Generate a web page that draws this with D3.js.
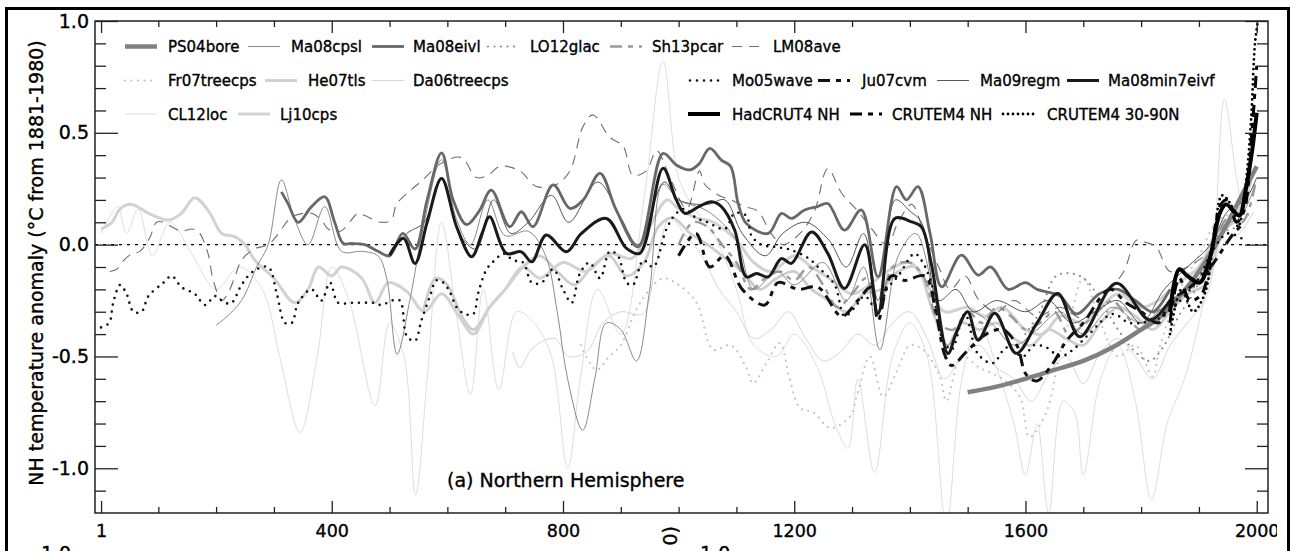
<!DOCTYPE html>
<html>
<head>
<meta charset="utf-8">
<script src="https://cdn.jsdelivr.net/npm/d3@7"></script>
<style>
  body { margin: 0; background: #fff; }
  text { font-family: "DejaVu Sans", sans-serif; fill: #000; stroke: #000; stroke-width: 0.35px; }
</style>
</head>
<body>
<script>
// ---- data: [year, anomaly] ----
var ps04bore = [[1500,-0.66],[1550,-0.635],[1600,-0.6],[1650,-0.56],[1700,-0.52],[1750,-0.46],[1800,-0.38],[1830,-0.33],[1860,-0.25],[1900,-0.12],[1940,0.05],[1970,0.2],[2000,0.35]];
var ma08cpsl = [[200,-0.36],[215,-0.33],[244,-0.25],[270,-0.1],[290,0.0],[313,0.29],[335,0.12],[359,0.0],[388,0.17],[417,-0.03],[452,-0.03],[480,-0.05],[495,-0.15],[513,-0.49],[535,-0.25],[560,0.1],[590,0.38],[615,0.12],[640,0.0],[670,0.2],[700,0.04],[740,0.06],[770,-0.05],[790,-0.3],[808,-0.6],[834,-0.83],[855,-0.6],[875,-0.35],[900,-0.38],[927,-0.52],[950,-0.2],[973,0.27],[1000,0.2],[1050,0.15],[1100,0.02],[1130,-0.2],[1170,-0.12],[1200,-0.18],[1250,-0.08],[1290,-0.25],[1320,-0.1],[1348,-0.47],[1380,-0.05],[1410,0.05],[1440,-0.2],[1465,-0.45],[1500,-0.3],[1540,-0.35],[1580,-0.45],[1620,-0.38],[1660,-0.3],[1700,-0.4],[1750,-0.28],[1800,-0.35],[1850,-0.25],[1900,-0.15],[1940,0.08],[1970,0.12],[1995,0.25]];
var ma08eivl = [[313,0.236],[325,0.18],[342,0.10],[365,0.17],[388,0.214],[405,0.1],[420,0.005],[434,0.005],[457,0.0],[480,-0.03],[500,-0.05],[523,0.05],[544,-0.02],[565,0.2],[590,0.41],[610,0.2],[633,0.09],[655,0.15],[676,0.244],[708,0.08],[728,0.147],[748,0.08],[783,0.267],[812,0.162],[835,0.2],[864,0.319],[892,0.155],[930,-0.01],[973,0.408],[996,0.356],[1019,0.334],[1035,0.36],[1054,0.43],[1074,0.378],[1090,0.35],[1103,0.184],[1117,0.095],[1155,0.05],[1178,0.14],[1195,0.117],[1218,0.155],[1240,0.17],[1258,0.184],[1287,0.065],[1316,0.155],[1345,-0.144],[1377,0.259],[1394,0.2],[1414,0.259],[1435,0.05],[1455,-0.189],[1489,-0.047],[1518,-0.136],[1540,-0.1],[1570,-0.2],[1600,-0.17],[1620,-0.2],[1660,-0.23],[1688,-0.31],[1728,-0.22],[1760,-0.2],[1790,-0.25],[1820,-0.3],[1850,-0.2]];
var lo12glac = [[1600,-0.4],[1625,-0.3],[1653,-0.14],[1682,-0.13],[1705,-0.16],[1730,-0.25],[1760,-0.38],[1790,-0.48],[1815,-0.52],[1840,-0.45],[1865,-0.32],[1890,-0.22],[1915,-0.08],[1940,0.05],[1965,0.08],[1990,0.15]];
var sh13pcar = [[1000,0.0],[1025,0.1],[1050,0.08],[1075,0.0],[1100,-0.08],[1125,-0.2],[1150,-0.15],[1175,-0.12],[1200,-0.16],[1225,-0.1],[1250,-0.18],[1275,-0.28],[1300,-0.22],[1325,-0.15],[1345,-0.3],[1370,-0.1],[1400,-0.08],[1425,-0.15],[1450,-0.35],[1475,-0.38],[1500,-0.3],[1525,-0.35],[1550,-0.28],[1575,-0.32],[1600,-0.38],[1625,-0.35],[1650,-0.3],[1675,-0.4],[1700,-0.36],[1725,-0.3],[1750,-0.25],[1775,-0.32],[1800,-0.38],[1825,-0.3],[1850,-0.28],[1875,-0.2],[1900,-0.18],[1925,-0.02],[1950,0.12],[1975,0.1],[1998,0.28]];
var lm08ave = [[16,-0.12],[28,-0.11],[40,-0.07],[55,-0.04],[68,-0.03],[85,0.03],[97,0.10],[110,0.10],[123,0.08],[140,0.06],[158,0.07],[169,0.06],[186,-0.04],[195,-0.16],[210,-0.25],[220,-0.22],[233,-0.14],[244,-0.07],[265,-0.02],[290,0.0],[305,0.04],[325,0.11],[336,0.13],[365,0.14],[382,0.11],[394,0.07],[415,0.06],[446,0.14],[457,0.13],[486,0.10],[503,0.11],[512,0.18],[535,0.24],[558,0.29],[587,0.36],[624,0.39],[650,0.30],[670,0.31],[691,0.35],[725,0.33],[754,0.26],[789,0.27],[812,0.33],[835,0.53],[852,0.58],[881,0.48],[904,0.44],[921,0.31],[944,0.33],[962,0.42],[985,0.3],[1014,0.16],[1036,0.33],[1045,0.27],[1070,0.22],[1091,0.20],[1115,0.17],[1137,0.15],[1160,0.05],[1180,0.0],[1210,0.05],[1235,0.15],[1258,0.34],[1282,0.23],[1310,0.15],[1334,0.07],[1360,0.0],[1380,0.1],[1403,0.18],[1425,0.05],[1450,-0.1],[1470,-0.2],[1495,-0.14],[1520,-0.25],[1550,-0.3],[1580,-0.25],[1620,-0.32],[1660,-0.28],[1700,-0.33],[1740,-0.22],[1770,-0.12],[1792,0.02],[1808,0.01],[1826,-0.01],[1850,-0.12],[1880,-0.1],[1910,-0.05],[1935,0.0]];
var fr07treecps = [[831,-0.45],[858,-0.56],[880,-0.5],[900,-0.45],[927,-0.29],[950,-0.2],[973,-0.15],[1000,-0.18],[1031,-0.26],[1060,-0.47],[1090,-0.45],[1117,-0.55],[1129,-0.62],[1152,-0.53],[1175,-0.44],[1192,-0.6],[1210,-0.73],[1233,-0.75],[1262,-0.82],[1296,-0.77],[1308,-0.68],[1331,-0.5],[1354,-0.68],[1380,-0.55],[1400,-0.45],[1423,-0.47],[1452,-0.59],[1463,-0.7],[1490,-0.5],[1520,-0.55],[1560,-0.6],[1590,-0.68],[1607,-0.86],[1636,-0.75],[1659,-0.49],[1680,-0.3],[1700,-0.15],[1730,-0.35],[1760,-0.5],[1790,-0.45],[1820,-0.59],[1832,-0.46],[1867,-0.2],[1900,-0.05],[1930,0.1],[1960,0.15],[1990,0.25]];
var he07tls = [[558,-0.3],[580,-0.15],[600,-0.18],[625,-0.32],[645,-0.38],[673,-0.28],[700,-0.2],[731,-0.1],[760,-0.05],[790,-0.12],[820,-0.18],[850,-0.1],[880,-0.05],[910,-0.14],[940,-0.08],[965,0.08],[990,0.12],[1020,0.05],[1050,0.0],[1080,-0.06],[1110,-0.12],[1140,-0.2],[1170,-0.15],[1200,-0.12],[1230,-0.2],[1260,-0.25],[1290,-0.3],[1320,-0.22],[1350,-0.2],[1380,-0.12],[1410,-0.1],[1440,-0.3],[1465,-0.45],[1490,-0.35],[1520,-0.38],[1550,-0.35],[1580,-0.42],[1610,-0.45],[1640,-0.38],[1670,-0.42],[1700,-0.45],[1730,-0.35],[1760,-0.28],[1790,-0.32],[1820,-0.38],[1850,-0.3],[1880,-0.22],[1910,-0.18],[1940,0.05],[1960,0.1]];
var da06treecps = [[713,-0.48],[725,-0.55],[748,-0.46],[786,-0.42],[809,-0.5],[841,-0.48],[869,-0.35],[900,-0.3],[938,-0.31],[960,-0.1],[985,0.12],[1010,0.05],[1040,-0.05],[1070,-0.2],[1100,-0.3],[1130,-0.42],[1160,-0.38],[1190,-0.3],[1220,-0.42],[1250,-0.52],[1280,-0.48],[1310,-0.4],[1340,-0.45],[1370,-0.35],[1400,-0.3],[1430,-0.42],[1460,-0.6],[1490,-0.5],[1520,-0.45],[1550,-0.55],[1580,-0.6],[1610,-0.7],[1640,-0.58],[1670,-0.5],[1700,-0.62],[1730,-0.48],[1760,-0.42],[1790,-0.5],[1820,-0.6],[1850,-0.45],[1880,-0.35],[1910,-0.25],[1940,0.0],[1970,0.05],[1995,0.15]];
var cl12loc = [[1,0.05],[15,0.12],[30,0.17],[45,0.05],[65,0.16],[90,-0.05],[120,0.1],[160,-0.05],[200,-0.2],[240,-0.1],[280,-0.2],[310,-0.5],[345,-0.84],[375,-0.5],[400,-0.1],[430,-0.25],[475,-0.72],[500,-0.35],[525,-0.5],[545,-1.12],[565,-0.6],[590,0.1],[615,-0.3],[640,-0.67],[662,-0.2],[689,-0.65],[720,-0.3],[750,-0.35],[780,-0.5],[808,-1.0],[830,-0.6],[860,-0.2],[900,-0.4],[940,0.2],[973,0.82],[1000,0.3],[1030,0.15],[1060,0.05],[1100,-0.2],[1130,-0.45],[1170,-0.5],[1200,-0.4],[1240,-0.55],[1270,-0.8],[1293,-0.91],[1310,-0.6],[1339,-1.02],[1370,-0.5],[1400,-0.35],[1430,-0.5],[1463,-1.25],[1490,-0.6],[1520,-0.35],[1550,-0.55],[1580,-0.8],[1600,-1.03],[1620,-0.8],[1640,-1.2],[1665,-0.7],[1685,-0.75],[1700,-1.03],[1730,-0.6],[1760,-0.45],[1790,-0.7],[1818,-1.14],[1845,-0.8],[1875,-0.6],[1900,-0.35],[1925,0.0],[1944,0.65],[1965,0.3],[1976,0.17],[1990,0.25]];
var lj10cps = [[1,0.07],[20,0.1],[34,0.16],[54,0.18],[83,0.14],[117,0.11],[140,0.14],[163,0.21],[187,0.15],[210,0.05],[233,0.035],[250,0.0],[267,-0.07],[300,-0.15],[336,-0.26],[359,-0.2],[377,-0.1],[400,-0.14],[417,-0.1],[452,-0.15],[475,-0.26],[498,-0.17],[530,-0.21],[560,-0.3],[590,-0.22],[620,-0.32],[645,-0.4],[673,-0.28],[700,-0.2],[731,-0.1],[760,-0.15],[800,-0.08],[840,-0.12],[880,-0.04],[920,-0.06],[950,0.08],[980,0.2],[1000,0.16],[1030,0.12],[1060,0.1],[1100,0.02],[1130,-0.08],[1160,-0.12],[1200,-0.05],[1230,-0.1],[1260,-0.15],[1300,-0.22],[1330,-0.18],[1360,-0.12],[1400,-0.08],[1430,-0.18],[1460,-0.3],[1500,-0.28],[1530,-0.32],[1560,-0.28],[1600,-0.38],[1630,-0.4],[1660,-0.32],[1700,-0.35],[1730,-0.28],[1760,-0.22],[1800,-0.28],[1830,-0.25],[1860,-0.18],[1900,-0.1],[1930,0.05],[1960,0.12],[1990,0.28]];
var mo05wave = [[1,-0.37],[15,-0.35],[22,-0.26],[34,-0.18],[45,-0.22],[57,-0.30],[71,-0.30],[83,-0.23],[109,-0.17],[123,-0.14],[140,-0.19],[163,-0.22],[181,-0.27],[198,-0.23],[215,-0.26],[227,-0.26],[244,-0.18],[264,-0.12],[290,-0.10],[305,-0.22],[319,-0.35],[331,-0.35],[342,-0.26],[365,-0.20],[382,-0.25],[397,-0.17],[411,-0.26],[434,-0.26],[452,-0.26],[472,-0.26],[486,-0.27],[504,-0.25],[518,-0.25],[530,-0.41],[544,-0.43],[555,-0.34],[570,-0.23],[581,-0.16],[593,-0.17],[604,-0.21],[616,-0.28],[630,-0.31],[645,-0.31],[653,-0.22],[668,-0.11],[682,-0.07],[697,-0.04],[714,-0.07],[731,-0.08],[746,-0.17],[763,-0.17],[783,-0.11],[800,-0.20],[815,-0.26],[829,-0.13],[846,-0.08],[864,-0.15],[881,-0.03],[895,-0.05],[910,-0.17],[921,-0.18],[939,-0.07],[956,-0.10],[979,0.07],[996,0.14],[1011,0.16],[1030,0.12],[1050,0.1],[1080,0.07],[1097,0.14],[1117,0.13],[1126,0.04],[1143,0.0],[1166,-0.01],[1190,-0.02],[1224,-0.06],[1241,-0.10],[1270,-0.18],[1287,-0.32],[1305,-0.28],[1322,-0.23],[1345,-0.3],[1360,-0.2],[1380,-0.14],[1408,-0.04],[1420,-0.07],[1437,-0.17],[1455,-0.41],[1472,-0.47],[1495,-0.31],[1518,-0.49],[1544,-0.53],[1567,-0.46],[1596,-0.50],[1615,-0.45],[1636,-0.46],[1660,-0.5],[1682,-0.47],[1710,-0.4],[1751,-0.31],[1780,-0.35],[1820,-0.34],[1844,-0.31],[1878,-0.22],[1900,-0.15],[1925,-0.02],[1950,0.05],[1979,0.02]];
var ju07cvm = [[1000,-0.05],[1030,0.05],[1054,-0.1],[1080,-0.05],[1110,-0.2],[1149,-0.27],[1172,-0.17],[1207,-0.2],[1241,-0.19],[1282,-0.32],[1310,-0.25],[1333,-0.19],[1345,-0.34],[1368,-0.14],[1391,-0.16],[1426,-0.14],[1445,-0.3],[1460,-0.49],[1472,-0.54],[1501,-0.47],[1532,-0.4],[1561,-0.38],[1585,-0.45],[1601,-0.58],[1619,-0.61],[1645,-0.54],[1671,-0.43],[1700,-0.35],[1746,-0.2],[1774,-0.26],[1800,-0.3],[1830,-0.35],[1850,-0.25],[1880,-0.2],[1920,-0.1],[1960,0.05],[1980,0.1]];
var ma09regm = [[500,-0.05],[530,0.05],[560,0.1],[590,0.3],[620,0.05],[650,-0.02],[680,0.2],[710,0.05],[740,0.1],[780,0.22],[810,0.1],[860,0.28],[900,0.12],[930,0.0],[975,0.28],[1000,0.2],[1050,0.18],[1080,0.2],[1110,0.05],[1150,-0.05],[1180,0.05],[1220,0.1],[1260,0.02],[1290,-0.1],[1320,0.05],[1345,-0.25],[1375,0.2],[1400,0.15],[1420,0.1],[1450,-0.25],[1480,-0.2],[1510,-0.3],[1550,-0.25],[1600,-0.3],[1640,-0.25],[1680,-0.35],[1720,-0.3],[1760,-0.25],[1800,-0.35],[1840,-0.2],[1880,-0.1],[1920,0.0],[1950,0.15],[1980,0.2],[2000,0.3]];
var ma08min7eivf = [[500,-0.047],[524,0.028],[544,-0.084],[565,0.1],[590,0.296],[616,0.08],[642,-0.054],[660,0.05],[673,0.125],[702,-0.039],[728,-0.032],[746,-0.077],[771,0.043],[806,-0.032],[832,0.05],[875,0.117],[910,-0.017],[933,-0.039],[973,0.341],[996,0.2],[1011,0.14],[1035,0.17],[1057,0.192],[1074,0.17],[1097,0.065],[1117,-0.144],[1135,-0.129],[1155,-0.144],[1178,-0.062],[1195,-0.084],[1230,0.057],[1258,-0.039],[1287,-0.196],[1322,0.0],[1345,-0.308],[1374,0.117],[1403,0.102],[1420,0.08],[1437,-0.084],[1466,-0.487],[1480,-0.397],[1500,-0.3],[1518,-0.427],[1547,-0.307],[1584,-0.486],[1620,-0.35],[1656,-0.218],[1694,-0.412],[1757,-0.173],[1815,-0.337],[1850,-0.25]];
var hadcrut4nh = [[1850,-0.3],[1866,-0.11],[1880,-0.14],[1901,-0.17],[1918,-0.07],[1936,0.14],[1947,0.18],[1960,0.15],[1970,0.13],[1982,0.26],[1992,0.42],[2000,0.59]];
var crutem4nh = [[1850,-0.35],[1866,-0.15],[1885,-0.25],[1905,-0.22],[1920,-0.05],[1938,0.18],[1950,0.2],[1965,0.1],[1978,0.15],[1990,0.45],[2000,0.8]];
var crutem4n3090 = [[1850,-0.4],[1870,-0.2],[1890,-0.3],[1910,-0.22],[1925,0.0],[1940,0.22],[1955,0.18],[1968,0.08],[1980,0.25],[1990,0.55],[1997,0.9],[2002,1.0]];

var xMajor = [1, 400, 800, 1200, 1600, 2000];
var xMinor = [100, 200, 300, 500, 600, 700, 900, 1000, 1100, 1300, 1400, 1500, 1700, 1800, 1900];
var yMajor = [-1.0, -0.5, 0.0, 0.5, 1.0];
var yMinor = [-1.1, -0.9, -0.8, -0.7, -0.6, -0.4, -0.3, -0.2, -0.1, 0.1, 0.2, 0.3, 0.4, 0.6, 0.7, 0.8, 0.9];

var legendRows = [
  ["PS04bore", "Ma08cpsl", "Ma08eivl", "LO12glac", "Sh13pcar", "LM08ave"],
  ["Fr07treecps", "He07tls", "Da06treecps", "Mo05wave", "Ju07cvm", "Ma09regm", "Ma08min7eivf"],
  ["CL12loc", "Lj10cps", "HadCRUT4 NH", "CRUTEM4 NH", "CRUTEM4 30-90N"]
];

// ---- styles (kept apart from the data) ----
var DOT = "0,6.5", DASH = "12,6,5,6";
var styles = {
  "PS04bore":       {c: "#808080", w: 4.5},
  "Ma08cpsl":       {c: "#8a8a8a", w: 1},
  "Ma08eivl":       {c: "#686868", w: 2.8},
  "LO12glac":       {c: "#8a8a8a", w: 2.2, d: DOT},
  "Sh13pcar":       {c: "#9a9a9a", w: 2.4, d: DASH},
  "LM08ave":        {c: "#6e6e6e", w: 1.1, d: "10,7"},
  "Fr07treecps":    {c: "#c2c2c2", w: 2.2, d: DOT},
  "He07tls":        {c: "#cdcdcd", w: 2.8},
  "Da06treecps":    {c: "#d6d6d6", w: 1},
  "CL12loc":        {c: "#dedede", w: 1},
  "Lj10cps":        {c: "#d2d2d2", w: 3},
  "Mo05wave":       {c: "#111",    w: 2.6, d: "0,7"},
  "Ju07cvm":        {c: "#111",    w: 3, d: DASH},
  "Ma09regm":       {c: "#555",    w: 1},
  "Ma08min7eivf":   {c: "#1a1a1a", w: 3},
  "HadCRUT4 NH":    {c: "#000",    w: 4},
  "CRUTEM4 NH":     {c: "#000",    w: 3, d: DASH},
  "CRUTEM4 30-90N": {c: "#000",    w: 2.8, d: "0,5"}
};

var series = [
  ["CL12loc", cl12loc], ["Da06treecps", da06treecps], ["Fr07treecps", fr07treecps],
  ["He07tls", he07tls], ["Lj10cps", lj10cps], ["LO12glac", lo12glac],
  ["Sh13pcar", sh13pcar], ["LM08ave", lm08ave], ["Ma08cpsl", ma08cpsl],
  ["Ma09regm", ma09regm], ["PS04bore", ps04bore], ["Ma08eivl", ma08eivl],
  ["Mo05wave", mo05wave], ["Ju07cvm", ju07cvm], ["Ma08min7eivf", ma08min7eivf],
  ["CRUTEM4 30-90N", crutem4n3090], ["CRUTEM4 NH", crutem4nh], ["HadCRUT4 NH", hadcrut4nh]
];

var W = 1290, H = 551;
var L = 95, R = 1268, T = 21, B = 513;

var svg = d3.select("body").append("svg").attr("width", W).attr("height", H);

var x = d3.scaleLinear().domain([-9.5, 2019.5]).range([L, R]);
var y = d3.scaleLinear().domain([-1.2, 1.0]).range([B, T]);

svg.append("clipPath").attr("id", "plot")
   .append("rect").attr("x", L).attr("y", T).attr("width", R - L).attr("height", B - T);

// zero line
svg.append("line")
   .attr("x1", L).attr("x2", R).attr("y1", y(0)).attr("y2", y(0))
   .attr("stroke", "#000").attr("stroke-width", 1.2).attr("stroke-dasharray", "3,5");

var line = d3.line()
   .x(function(d){ return x(d[0]); })
   .y(function(d){ return y(d[1]); })
   .curve(d3.curveCatmullRom.alpha(0.5));

function styleIt(sel, name) {
  var s = styles[name];
  sel.attr("fill", "none").attr("stroke", s.c).attr("stroke-width", s.w)
     .attr("stroke-linecap", s.d && s.d.indexOf("0,") === 0 ? "round" : "butt")
     .attr("stroke-linejoin", "round");
  if (s.d) sel.attr("stroke-dasharray", s.d);
  return sel;
}

var g = svg.append("g").attr("clip-path", "url(#plot)");
series.forEach(function(s){
  styleIt(g.append("path").attr("d", line(s[1])), s[0]);
});

// axes, ticks pointing inward
function noDomain(a){ a.select(".domain").remove(); a.selectAll("line").attr("stroke", "#222").attr("stroke-width", 1.3); }

svg.append("g").attr("transform", "translate(0," + B + ")")
   .call(d3.axisBottom(x).tickValues(xMajor).tickSize(-12).tickPadding(12).tickFormat(d3.format("d")))
   .call(noDomain)
   .selectAll("text").attr("font-size", "17.5px").attr("font-family", "DejaVu Sans");
svg.append("g").attr("transform", "translate(0," + B + ")")
   .call(d3.axisBottom(x).tickValues(xMinor).tickSize(-6).tickFormat(""))
   .call(noDomain);
svg.append("g").attr("transform", "translate(0," + T + ")")
   .call(d3.axisTop(x).tickValues(xMajor).tickSize(-12).tickFormat(""))
   .call(noDomain);
svg.append("g").attr("transform", "translate(0," + T + ")")
   .call(d3.axisTop(x).tickValues(xMinor).tickSize(-6).tickFormat(""))
   .call(noDomain);

svg.append("g").attr("transform", "translate(" + L + ",0)")
   .call(d3.axisLeft(y).tickValues(yMajor).tickSize(-23).tickPadding(6)
         .tickFormat(function(d){ return d.toFixed(1); }))
   .call(noDomain)
   .selectAll("text").attr("font-size", "19px").attr("font-family", "DejaVu Sans");
svg.append("g").attr("transform", "translate(" + L + ",0)")
   .call(d3.axisLeft(y).tickValues(yMinor).tickSize(-11).tickFormat(""))
   .call(noDomain);
svg.append("g").attr("transform", "translate(" + R + ",0)")
   .call(d3.axisRight(y).tickValues(yMajor).tickSize(-23).tickFormat(""))
   .call(noDomain);
svg.append("g").attr("transform", "translate(" + R + ",0)")
   .call(d3.axisRight(y).tickValues(yMinor).tickSize(-11).tickFormat(""))
   .call(noDomain);

// plot frame
svg.append("rect").attr("x", L).attr("y", T).attr("width", R - L).attr("height", B - T)
   .attr("fill", "none").attr("stroke", "#222").attr("stroke-width", 1.5);

// legend
var legendPos = [
  [[125,168],[248,291],[372,413],[488,530],[610,652],[732,773]],
  [[125,168],[265,308],[372,413],[690,732],[818,862],[937,980],[1067,1108]],
  [[125,168],[238,280],[688,732],[850,892],[1003,1047]]
];
var rowY = [46.5, 80.5, 114];
legendRows.forEach(function(row, r){
  row.forEach(function(name, i){
    var p = legendPos[r][i];
    styleIt(svg.append("line").attr("x1", p[0]).attr("x2", p[0] + 32)
       .attr("y1", rowY[r]).attr("y2", rowY[r]), name);
    svg.append("text").attr("x", p[1]).attr("y", rowY[r] + 5.5)
       .attr("font-size", "15px").text(name);
  });
});

svg.append("text").attr("x", 447).attr("y", 487).attr("font-size", "19px")
   .text("(a) Northern Hemisphere");

svg.append("text").attr("transform", "translate(43," + 263 + ") rotate(-90)")
   .attr("text-anchor", "middle").attr("font-size", "19px")
   .text("NH temperature anomaly (\u00B0C from 1881-1980)");

// pieces of the panel below, cut by the image edge as in the reference
svg.append("text").attr("x", 28).attr("y", 560).attr("font-size", "19px").text("- 1.0");
svg.append("text").attr("x", 700).attr("y", 560).attr("font-size", "19px").text("1.0");
svg.append("text").attr("transform", "translate(677,526) rotate(-90)")
   .attr("text-anchor", "end").attr("font-size", "19px").text("0)");

// white strip where the 2000 label is cut, then outer frame
svg.append("rect").attr("x", 1277).attr("y", 515).attr("width", 9).attr("height", 36).attr("fill", "#fff");
svg.append("rect").attr("x", 6.5).attr("y", 8.5).attr("width", 1282).attr("height", 620)
   .attr("fill", "none").attr("stroke", "#000").attr("stroke-width", 3);
</script>
</body>
</html>
